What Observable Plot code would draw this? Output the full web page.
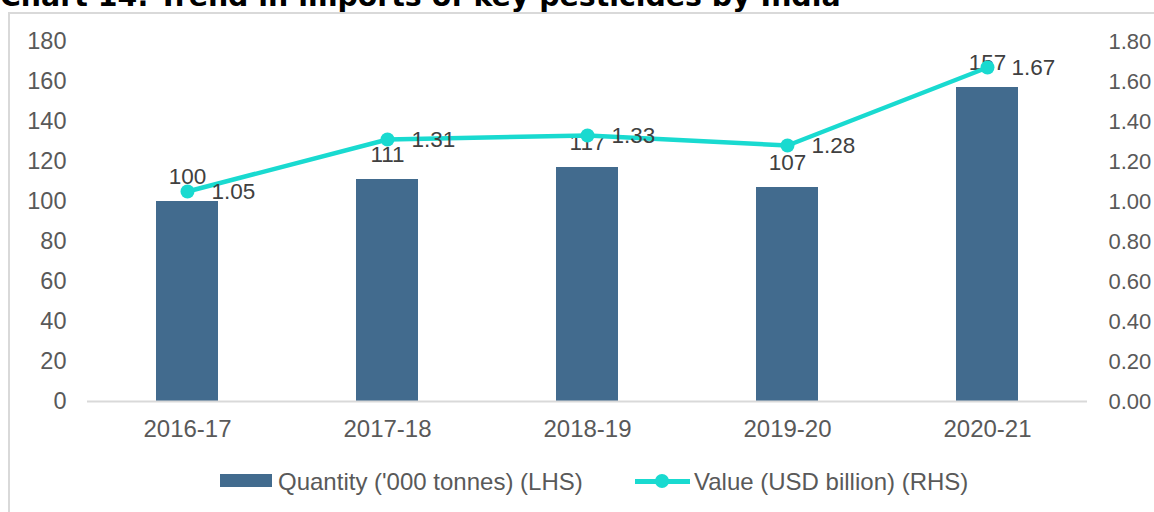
<!DOCTYPE html>
<html>
<head>
<meta charset="utf-8">
<script src="https://cdn.jsdelivr.net/npm/d3@7"></script>
<script src="https://cdn.jsdelivr.net/npm/@observablehq/plot@0.6"></script>
<style>
  html, body { margin: 0; padding: 0; background: #fff; overflow: hidden; }
  #wrap { position: relative; width: 1154px; height: 512px; overflow: hidden; font-family: "Liberation Sans", Arial, sans-serif; }
  #title { position: absolute; left: 0; top: -17px; font-family: "DejaVu Sans", Verdana, sans-serif; font-weight: bold; font-size: 28.4px; line-height: 28px; color: #000; white-space: nowrap; }
  #frame { position: absolute; left: 8px; top: 12px; width: 1200px; height: 600px; border: 2px solid #d9d9d9; box-sizing: border-box; }
  #chart { position: absolute; left: 0; top: 0; }
  .leg { position: absolute; }
  .legtext { position: absolute; font-size: 24px; color: #595959; line-height: 24px; white-space: nowrap; }
</style>
</head>
<body>
<div id="wrap">
  <div id="frame"></div>
  <div id="title">Chart 14: Trend in imports of key pesticides by India</div>
  <div id="chart"></div>
  <div class="leg" style="left:220px;top:474px;width:52px;height:13px;background:#426B8E;"></div>
  <div class="legtext" id="lt1" style="left:278px;top:470px;">Quantity ('000 tonnes) (LHS)</div>
  <div class="leg" style="left:635px;top:479px;width:55px;height:5px;background:#19DAD0;"></div>
  <div class="leg" style="left:655px;top:474px;width:14px;height:14px;border-radius:50%;background:#19DAD0;"></div>
  <div class="legtext" id="lt2" style="left:694px;top:470px;">Value (USD billion) (RHS)</div>
</div>
<script>
const years = ["2016-17", "2017-18", "2018-19", "2019-20", "2020-21"];
const quantity = [100, 111, 117, 107, 157];
const value = [1.05, 1.31, 1.33, 1.28, 1.67];
const leftTicks = [0, 20, 40, 60, 80, 100, 120, 140, 160, 180];
const rightTicks = [0, 0.2, 0.4, 0.6, 0.8, 1.0, 1.2, 1.4, 1.6, 1.8];

const barColor = "#426B8E";
const lineColor = "#19DAD0";
const ratio = 100; // RHS 1.80 aligns with LHS 180

const data = years.map((y, i) => ({year: y, q: quantity[i], v: value[i], vs: value[i] * ratio}));

const chart = Plot.plot({
  width: 1154,
  height: 450,
  marginLeft: 87,
  marginRight: 67,
  marginTop: 41,
  marginBottom: 49,
  style: {fontFamily: "'Liberation Sans', Arial, sans-serif", color: "#595959", background: "transparent"},
  x: {type: "band", domain: years, paddingInner: 0.69, paddingOuter: 0.345, label: null},
  y: {domain: [0, 180], label: null},
  marks: [
    Plot.barY(data, {x: "year", y: "q", fill: barColor}),
    Plot.ruleY([0], {stroke: "#d9d9d9", strokeWidth: 2}),
    Plot.axisY(leftTicks, {anchor: "left", tickSize: 0, tickPadding: 21, fontSize: 23.5, label: null}),
    Plot.axisY(rightTicks.map(d => d * ratio), {anchor: "right", tickSize: 0, tickPadding: 21, fontSize: 22, label: null, tickFormat: d => (d / ratio).toFixed(2)}),
    Plot.axisX({tickSize: 0, tickPadding: 18, fontSize: 24, label: null}),
    Plot.text(data, {x: "year", y: "q", text: d => String(d.q), dy: -25, fontSize: 22.5, fill: "#404040", lineAnchor: "middle"}),
    Plot.line(data, {x: "year", y: "vs", stroke: lineColor, strokeWidth: 4.5}),
    Plot.dot(data, {x: "year", y: "vs", r: 7, fill: lineColor, stroke: "none"}),
    Plot.text(data, {x: "year", y: "vs", text: d => d.v.toFixed(2), dx: 24, textAnchor: "start", fontSize: 22.5, fill: "#404040", lineAnchor: "middle"})
  ]
});
document.getElementById("chart").appendChild(chart);
</script>
</body>
</html>
